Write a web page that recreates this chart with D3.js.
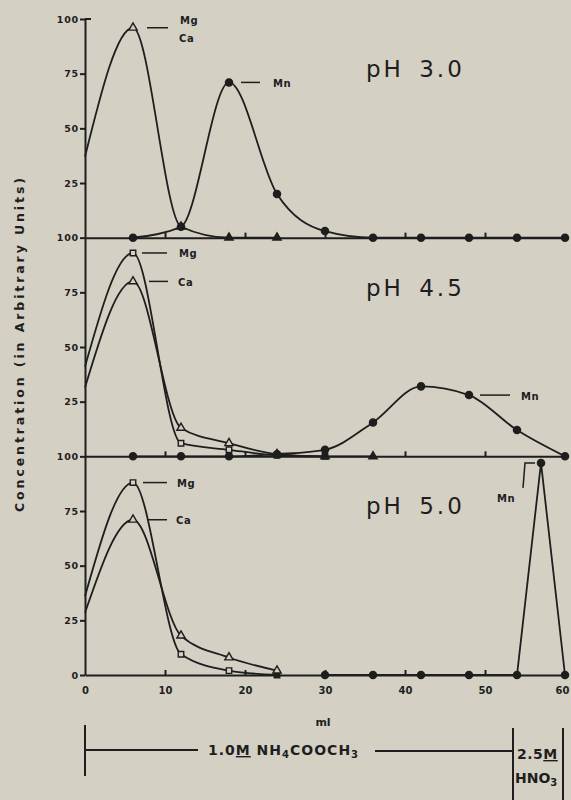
<!DOCTYPE html>
<html>
<head>
<meta charset="utf-8">
<script src="https://cdn.jsdelivr.net/npm/d3@7"></script>
<style>
    body { margin: 0; background: #d4d0c4; }
    svg { display: block; }
    text { font-family: "DejaVu Sans", sans-serif; fill: #1e1e1e; }
    .axis .domain, .axis line { stroke: #1e1e1e; stroke-width: 2; }
    .axis text { font-weight: bold; font-size: 9.5px; letter-spacing: 0.8px; }
    .xlabels text { font-size: 10px; letter-spacing: 0px; }
</style>
</head>
<body>
<div id="chart"></div>
<script>
// ---- data (ml of eluate, concentration in arbitrary units) ----
const mlTicks = [0, 10, 20, 30, 40, 50, 60];
const baseTicks = [10, 20, 30, 40, 50];
const yTicks = [25, 50, 75, 100];
const phLabels = ["pH 3.0", "pH 4.5", "pH 5.0"];

// pH 3.0 (Mg and Ca elute together)
const mgCa30Ml = [0, 6, 12, 18, 24];
const mgCa30 = [37, 96, 5, 0, 0];
const mn30Ml = [6, 12, 18, 24, 30, 36, 42, 48, 54, 60];
const mn30 = [0, 5, 71, 20, 3, 0, 0, 0, 0, 0];

// pH 4.5
const mg45Ml = [0, 6, 12, 18, 24, 30];
const mg45 = [41, 93, 6, 3, 0.5, 0];
const ca45Ml = [0, 6, 12, 18, 24, 30, 36];
const ca45 = [31.5, 80, 13, 6, 1, 0, 0];
const mn45Ml = [6, 12, 18, 24, 30, 36, 42, 48, 54, 60];
const mn45 = [0, 0, 0, 1, 3, 15.5, 32, 28, 12, 0];

// pH 5.0
const mg50Ml = [0, 6, 12, 18, 24];
const mg50 = [36, 88, 9.5, 2, 0];
const ca50Ml = [0, 6, 12, 18, 24];
const ca50 = [28.5, 71, 18, 8, 2];
const mn50Ml = [30, 36, 42, 48, 54, 57, 60];
const mn50 = [0, 0, 0, 0, 0, 97, 0];

const pts = (ml, v) => ml.map((m, i) => ({ml: m, v: v[i]}));

// label: which point the leader starts from, and pixel offsets
const panels = [
    {label: phLabels[0], series: [
        {name: "Mg,Ca", data: pts(mgCa30Ml, mgCa30), marker: "triangle",
            tag: {at: 1, line: [14, 35], texts: [["Mg", 47, -7], ["Ca", 46, 11]]}},
        {name: "Mn", data: pts(mn30Ml, mn30), marker: "circle",
            tag: {at: 2, line: [12, 31], texts: [["Mn", 44, 1]]}}
    ]},
    {label: phLabels[1], series: [
        {name: "Mg", data: pts(mg45Ml, mg45), marker: "square",
            tag: {at: 1, line: [9, 34], texts: [["Mg", 46, 1]]}},
        {name: "Ca", data: pts(ca45Ml, ca45), marker: "triangle",
            tag: {at: 1, line: [16, 35], texts: [["Ca", 45, 1]]}},
        {name: "Mn", data: pts(mn45Ml, mn45), marker: "circle",
            tag: {at: 7, line: [11, 41], texts: [["Mn", 52, 1]]}}
    ]},
    {label: phLabels[2], series: [
        {name: "Mg", data: pts(mg50Ml, mg50), marker: "square",
            tag: {at: 1, line: [10, 34], texts: [["Mg", 44, 1]]}},
        {name: "Ca", data: pts(ca50Ml, ca50), marker: "triangle",
            tag: {at: 1, line: [15, 34], texts: [["Ca", 43, 1]]}},
        {name: "Mn", data: pts(mn50Ml, mn50), marker: "circle", linear: true,
            tag: {at: 5, bracket: [[-18, 25], [-16, 0], [-6, 0]], texts: [["Mn", -44, 36]]}}
    ]}
];

// ---- layout ----
const W = 571, H = 800;
const bg = "#d4d0c4", ink = "#1e1e1e";
const plotTop = 19, plotBottom = 675;
const panelH = (plotBottom - plotTop) / 3;

const x = d3.scaleLinear().domain([0, 60]).range([85, 565]);

const svg = d3.select("#chart").append("svg")
    .attr("width", W)
    .attr("height", H);

svg.append("rect").attr("width", W).attr("height", H).attr("fill", bg);

const symbols = {circle: d3.symbolCircle, square: d3.symbolSquare, triangle: d3.symbolTriangle};
const sizes = {circle: 40, square: 30, triangle: 30};

panels.forEach((p, i) => {
    const yTop = plotTop + i * panelH, yBase = yTop + panelH;
    const y = d3.scaleLinear().domain([0, 100]).range([yBase, yTop]);
    const g = svg.append("g");

    // baseline with small upward ticks
    g.append("g")
        .attr("class", "axis")
        .attr("transform", `translate(0,${yBase})`)
        .call(d3.axisTop(x).tickValues(baseTicks).tickSize(5).tickSizeOuter(0).tickFormat(""));

    // left axis; the baseline of the panel above is labelled as this panel's 100
    g.append("g")
        .attr("class", "axis")
        .attr("transform", `translate(${x(0)},0)`)
        .call(d3.axisLeft(y)
            .tickValues(i === 2 ? [0].concat(yTicks) : yTicks)
            .tickSize(5).tickSizeOuter(0).tickPadding(1)
            .tickFormat(d3.format("d")));

    // curves
    p.series.forEach(s => {
        const line = d3.line()
            .curve(s.linear ? d3.curveLinear : d3.curveMonotoneX)
            .x(d => x(d.ml))
            .y(d => y(d.v));
        g.append("path")
            .datum(s.data)
            .attr("d", line)
            .attr("fill", "none")
            .attr("stroke", ink)
            .attr("stroke-width", 1.8);
    });

    // markers (none at ml 0); open markers look solid when they sit on the baseline
    p.series.forEach(s => {
        g.selectAll(null)
            .data(s.data.filter(d => d.ml > 0))
            .enter()
            .append("path")
            .attr("transform", d => `translate(${x(d.ml)},${y(d.v)})`)
            .attr("d", d3.symbol(symbols[s.marker], sizes[s.marker]))
            .attr("fill", d => (s.marker === "circle" || d.v <= 1.5) ? ink : bg)
            .attr("stroke", ink)
            .attr("stroke-width", 1.4);
    });

    // series labels with leaders
    p.series.forEach(s => {
        const t = s.tag, d = s.data[t.at];
        const px = x(d.ml), py = y(d.v);
        if (t.line) {
            g.append("line")
                .attr("x1", px + t.line[0]).attr("x2", px + t.line[1])
                .attr("y1", py).attr("y2", py)
                .attr("stroke", ink).attr("stroke-width", 1.5);
        }
        if (t.bracket) {
            g.append("path")
                .attr("d", d3.line()(t.bracket.map(b => [px + b[0], py + b[1]])))
                .attr("fill", "none").attr("stroke", ink).attr("stroke-width", 1.5);
        }
        t.texts.forEach(tx => {
            g.append("text")
                .attr("x", px + tx[1])
                .attr("y", py + tx[2])
                .attr("dy", "0.35em")
                .style("font-size", "10px")
                .style("font-weight", "bold")
                .style("letter-spacing", "0.6px")
                .text(tx[0]);
        });
    });

    // pH title
    g.append("text")
        .attr("x", 366)
        .attr("y", yTop + 58)
        .style("font-size", "23px")
        .style("letter-spacing", "3px")
        .style("word-spacing", "5px")
        .text(p.label);
});

// small stub at the top of the y axis
svg.append("line")
    .attr("x1", x(0)).attr("x2", x(0) + 6)
    .attr("y1", plotTop).attr("y2", plotTop)
    .attr("stroke", ink).attr("stroke-width", 2);

// x tick labels (last one nudged in so it stays on the page)
const xl = svg.append("g")
    .attr("class", "axis xlabels")
    .attr("transform", `translate(0,${plotBottom})`)
    .call(d3.axisBottom(x).tickValues(mlTicks).tickSize(0).tickPadding(12));
xl.select(".domain").remove();
xl.selectAll(".tick text").filter(d => d === 60).attr("dx", -3);

svg.append("text")
    .attr("x", 323)
    .attr("y", 726)
    .attr("text-anchor", "middle")
    .style("font-size", "11px")
    .style("font-weight", "bold")
    .text("ml");

// y axis title
svg.append("text")
    .attr("transform", "translate(24,345) rotate(-90)")
    .attr("text-anchor", "middle")
    .attr("textLength", 334)
    .attr("lengthAdjust", "spacing")
    .style("font-size", "12.5px")
    .style("font-weight", "bold")
    .text("Concentration (in Arbitrary Units)");

// eluent bar below the axis
const bar = svg.append("g").attr("stroke", ink).attr("stroke-width", 2);
bar.append("line").attr("x1", x(0)).attr("x2", x(0)).attr("y1", 725).attr("y2", 776);
bar.append("line").attr("x1", x(0)).attr("x2", 198).attr("y1", 750).attr("y2", 750);
bar.append("line").attr("x1", 375).attr("x2", 513).attr("y1", 751).attr("y2", 751);
bar.append("line").attr("x1", 513).attr("x2", 513).attr("y1", 728).attr("y2", 800);
bar.append("line").attr("x1", 563).attr("x2", 563).attr("y1", 728).attr("y2", 800);

const eluent1 = svg.append("text")
    .attr("x", 208).attr("y", 755)
    .style("font-size", "14px")
    .style("font-weight", "bold")
    .style("letter-spacing", "1px");
eluent1.append("tspan").text("1.0");
eluent1.append("tspan").style("text-decoration", "underline").text("M");
eluent1.append("tspan").text(" NH");
eluent1.append("tspan").attr("dy", 3).style("font-size", "10px").text("4");
eluent1.append("tspan").attr("dy", -3).text("COOCH");
eluent1.append("tspan").attr("dy", 3).style("font-size", "10px").text("3");

const eluent2 = svg.append("text")
    .attr("x", 517).attr("y", 759)
    .style("font-size", "14px")
    .style("font-weight", "bold")
    .style("letter-spacing", "0.5px");
eluent2.append("tspan").text("2.5");
eluent2.append("tspan").style("text-decoration", "underline").text("M");

const eluent3 = svg.append("text")
    .attr("x", 515).attr("y", 783)
    .style("font-size", "14px")
    .style("font-weight", "bold");
eluent3.append("tspan").text("HNO");
eluent3.append("tspan").attr("dy", 3).style("font-size", "10px").text("3");
</script>
</body>
</html>
